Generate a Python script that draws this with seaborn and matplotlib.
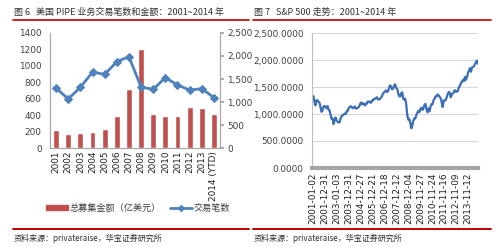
import numpy as np
import pandas as pd
import matplotlib
matplotlib.use("Agg")
import matplotlib.pyplot as plt
import seaborn as sns
from matplotlib.lines import Line2D
from matplotlib.patches import Patch
import matplotlib.ticker as mticker

sns.set_theme(style="white")
plt.rcParams['font.family'] = ['DejaVu Sans', 'Noto Sans CJK SC']
CJK = ['Noto Sans CJK SC', 'DejaVu Sans']

# ---- data: left chart ----
years = ["2001", "2002", "2003", "2004", "2005", "2006", "2007", "2008",
         "2009", "2010", "2011", "2012", "2013", "2014 (YTD)"]
amount = [220, 165, 185, 190, 230, 390, 715, 1210, 415, 385, 395, 495, 485, 410]
deals = [1305, 1065, 1320, 1650, 1600, 1875, 1985, 1325, 1275, 1530, 1370, 1260, 1290, 1095]

# ---- data: right chart (S&P 500 monthly closes) ----
sp_months = pd.date_range("2001-01-02", periods=164, freq="MS").strftime("%Y-%m-%d").tolist()
sp_close = [
    1330, 1240, 1160, 1249, 1256, 1224, 1211, 1134, 1041, 1060, 1139, 1148,
    1130, 1107, 1147, 1077, 1067, 990, 912, 916, 815, 886, 936, 880,
    856, 841, 848, 917, 964, 975, 990, 1008, 996, 1051, 1058, 1112,
    1131, 1145, 1126, 1107, 1121, 1141, 1102, 1104, 1115, 1130, 1174, 1212,
    1181, 1204, 1181, 1157, 1192, 1191, 1234, 1220, 1229, 1207, 1249, 1248,
    1280, 1281, 1295, 1311, 1270, 1270, 1277, 1304, 1336, 1378, 1401, 1418,
    1438, 1407, 1421, 1482, 1531, 1503, 1455, 1474, 1527, 1549, 1481, 1468,
    1379, 1331, 1323, 1386, 1400, 1280, 1267, 1283, 1166, 969, 896, 903,
    826, 735, 798, 873, 919, 919, 987, 1021, 1057, 1036, 1096, 1115,
    1074, 1104, 1169, 1187, 1089, 1031, 1102, 1049, 1141, 1183, 1181, 1258,
    1286, 1327, 1326, 1364, 1345, 1321, 1292, 1219, 1131, 1253, 1247, 1258,
    1312, 1366, 1408, 1398, 1310, 1362, 1379, 1407, 1441, 1412, 1416, 1426,
    1498, 1515, 1569, 1598, 1631, 1606, 1686, 1633, 1682, 1757, 1806, 1848,
    1783, 1859, 1872, 1884, 1924, 1960, 1990, 1930,
]
sp_ticks = ["2001-01-02", "2001-12-31", "2003-01-03", "2003-12-31", "2004-12-27",
            "2005-12-21", "2006-12-18", "2007-12-12", "2008-12-04", "2009-11-27",
            "2010-11-24", "2011-11-16", "2012-11-09", "2013-11-12"]

W, H = 500, 247
fig = plt.figure(figsize=(W / 100, H / 100), dpi=100)
fig.patch.set_facecolor("white")

def fx(px): return px / W
def fy(py): return 1 - py / H

red = "#C0504D"
blue = "#4F81BD"
grey_txt = "#404040"
fs = 6.4

# ---- left chart ----
axL = fig.add_axes([fx(50), fy(148), fx(220) - fx(50), fy(33) - fy(148)])
dfL = pd.DataFrame({"year": years, "amount": amount, "deals": deals, "pos": np.arange(len(years))})
sns.barplot(data=dfL, x="year", y="amount", color=red, width=0.48, ax=axL, saturation=1)
axL.set_ylim(0, 1400)
axL.set_yticks(np.arange(0, 1401, 200))
axL.set_xlim(-0.5, len(years) - 0.5)
axL.set_xlabel("")
axL.set_ylabel("")
axL.tick_params(axis="x", labelrotation=90, labelsize=fs, colors=grey_txt, length=0, pad=2)
axL.tick_params(axis="y", labelsize=fs, colors=grey_txt, length=0, pad=6)
for lbl in axL.get_xticklabels():
    lbl.set_color("#202020")
axR = axL.twinx()
sns.lineplot(data=dfL, x="pos", y="deals", color=blue, marker="D", markersize=4,
             markeredgecolor=blue, linewidth=2, ax=axR)
axR.set_ylim(0, 2500)
axR.set_yticks(np.arange(0, 2501, 500))
axR.yaxis.set_major_formatter(mticker.FuncFormatter(lambda v, p: f"{int(v):,}"))
axR.set_ylabel("")
axR.tick_params(axis="y", labelsize=fs, colors=grey_txt, length=3, color="#A0A0A0", pad=2)
for ax in (axL, axR):
    for s in ("top",):
        ax.spines[s].set_visible(False)
    for s in ("left", "right", "bottom"):
        ax.spines[s].set_color("#A6A6A6")
        ax.spines[s].set_linewidth(0.8)

handles = [Patch(color=red), Line2D([0], [0], color=blue, marker="D", markersize=3, linewidth=2)]
leg = fig.legend(handles, ["总募集金额（亿美元）", "交易笔数"], loc="center",
                 bbox_to_anchor=(fx(138), fy(208)), ncol=2, frameon=False,
                 prop={"family": CJK, "size": 6.6}, handlelength=2.4, handleheight=0.5,
                 columnspacing=1.0, handletextpad=0.2)
for t in leg.get_texts():
    t.set_color(grey_txt)

# ---- right chart ----
ax2 = fig.add_axes([fx(312), fy(168), fx(478) - fx(312), fy(33) - fy(168)])
dfR = pd.DataFrame({"date": pd.to_datetime(sp_months), "close": sp_close})
sns.lineplot(data=dfR, x="date", y="close", color="#3A6FB7", linewidth=1.6, ax=ax2)
ax2.set_ylim(0, 2500)
ax2.set_yticks(np.arange(0, 2501, 500))
ax2.yaxis.set_major_formatter(mticker.FuncFormatter(lambda v, p: f"{v:,.4f}"))
ax2.set_xlim(pd.Timestamp("2000-12-20"), pd.Timestamp("2014-08-31"))
ax2.set_xticks(pd.to_datetime(sp_ticks))
ax2.set_xticklabels(sp_ticks)
ax2.set_xlabel("")
ax2.set_ylabel("")
ax2.grid(axis="y", color="#D9D9D9", linewidth=0.8)
ax2.grid(axis="x", visible=False)
ax2.tick_params(axis="x", labelrotation=90, labelsize=fs, colors="#202020", length=0, pad=3)
ax2.tick_params(axis="y", labelsize=fs, colors=grey_txt, length=0, pad=6)
for s in ("top", "right"):
    ax2.spines[s].set_visible(False)
ax2.spines["left"].set_color("#BFBFBF")
ax2.spines["left"].set_linewidth(0.8)
ax2.spines["bottom"].set_color("#A6A6A6")
ax2.spines["bottom"].set_linewidth(3)

# ---- titles, rules, sources ----
fig.text(fx(14), fy(12), "图 6   美国 PIPE 业务交易笔数和金额：2001~2014 年", family=CJK,
         fontsize=6.5, color="#303030", va="center", ha="left")
fig.text(fx(254), fy(12), "图 7   S&P 500 走势：2001~2014 年", family=CJK,
         fontsize=6.5, color="#303030", va="center", ha="left")
for (x0, x1) in ((13, 249), (253, 491)):
    fig.add_artist(Line2D([fx(x0), fx(x1)], [fy(20), fy(20)], color="#C00000", linewidth=1.2))
    fig.add_artist(Line2D([fx(x0), fx(x1)], [fy(229), fy(229)], color="#C00000", linewidth=1.4))
fig.text(fx(14), fy(238), "资料来源：privateraise，华宝证券研究所", family=CJK,
         fontsize=5.8, color="#303030", va="center", ha="left")
fig.text(fx(254), fy(238), "资料来源：privateraise，华宝证券研究所", family=CJK,
         fontsize=5.8, color="#303030", va="center", ha="left")

fig.savefig("out.png", dpi=100, facecolor="white")
